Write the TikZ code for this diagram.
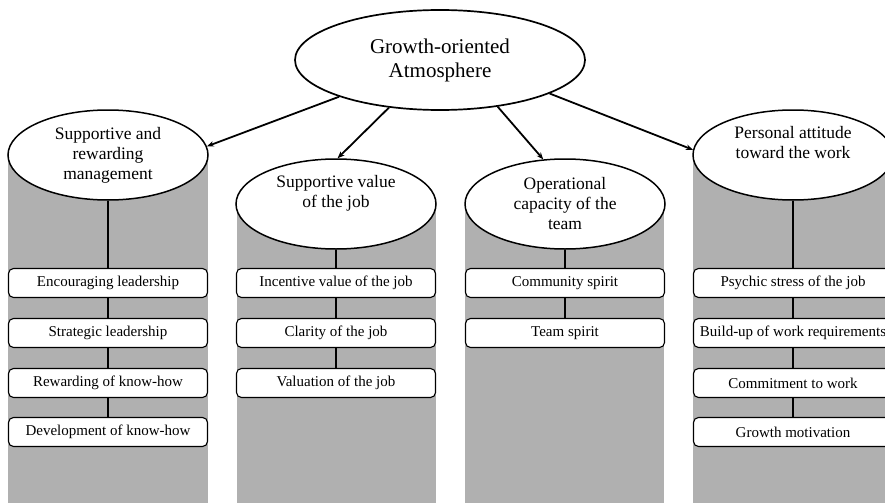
\documentclass[tikz,border=0pt]{standalone}
\usepackage{fontspec}
\setmainfont{Liberation Serif}
\usetikzlibrary{shapes.geometric,arrows.meta}
\definecolor{colgray}{HTML}{B0B0B0}
\begin{document}
\begin{tikzpicture}[x=1pt,y=-1pt,
  topell/.style={ellipse, draw, line width=1.7pt, fill=white, minimum width=290pt, minimum height=100pt, inner sep=0pt, align=center, font=\fontsize{21}{24}\selectfont},
  subell/.style={ellipse, draw, line width=1.5pt, fill=white, minimum width=200pt, minimum height=90pt, inner sep=0pt, align=center, font=\fontsize{17.5}{20}\selectfont},
  itembox/.style={draw, rounded corners=5pt, fill=white, line width=1.1pt, minimum width=199pt, minimum height=29pt, inner sep=0pt, font=\fontsize{15}{18}\selectfont},
  vline/.style={line width=2pt},
  arr/.style={line width=1.8pt, -{Stealth[length=7pt,width=5.5pt]}}
]
\useasboundingbox (0,0) rectangle (885,503);
\clip (0,0) rectangle (885,503);
\fill[white] (0,0) rectangle (885,503);
% gray columns
\fill[colgray] (8,155) rectangle (208,503);
\fill[colgray] (237,204) rectangle (436,503);
\fill[colgray] (465,204) rectangle (664,503);
\fill[colgray] (693,155) rectangle (893,503);
% ellipses
\node[topell] (top) at (440,60) {Growth-oriented\\Atmosphere};
\node[subell] (m1) at (108,155) {Supportive and\\rewarding\\management};
\node[subell] (m2) at (336,204) {Supportive value\\of the job\\\strut};
\node[subell] (m3) at (565,204) {Operational\\capacity of the\\team};
\node[subell] (m4) at (793,155) {Personal attitude\\toward the work\\\strut};
% boxes column 1
\node[itembox] (a1) at (108,283) {Encouraging leadership};
\node[itembox] (a2) at (108,333) {Strategic leadership};
\node[itembox] (a3) at (108,383) {Rewarding of know-how};
\node[itembox] (a4) at (108,432) {Development of know-how};
% column 2
\node[itembox] (b1) at (336,283) {Incentive value of the job};
\node[itembox] (b2) at (336,333) {Clarity of the job};
\node[itembox] (b3) at (336,383) {Valuation of the job};
% column 3
\node[itembox] (c1) at (565,283) {Community spirit};
\node[itembox] (c2) at (565,333) {Team spirit};
% column 4
\node[itembox] (d1) at (793,283) {Psychic stress of the job};
\node[itembox] (d2) at (793,333) {Build-up of work requirements};
\node[itembox] (d3) at (793,383) {Commitment to work};
\node[itembox] (d4) at (793,432) {Growth motivation};
% vertical connectors
\draw[vline] (m1) -- (a1);
\draw[vline] (a1) -- (a2);
\draw[vline] (a2) -- (a3);
\draw[vline] (a3) -- (a4);
\draw[vline] (m2) -- (b1);
\draw[vline] (b1) -- (b2);
\draw[vline] (b2) -- (b3);
\draw[vline] (m3) -- (c1);
\draw[vline] (c1) -- (c2);
\draw[vline] (m4) -- (d1);
\draw[vline] (d1) -- (d2);
\draw[vline] (d2) -- (d3);
\draw[vline] (d3) -- (d4);
% arrows
\draw[arr] (top.200) -- (m1.5);
\draw[arr] (top.223) -- (m2.88);
\draw[arr] (top.321) -- (m3.116);
\draw[arr] (top.343) -- (m4.177);
\end{tikzpicture}
\end{document}
